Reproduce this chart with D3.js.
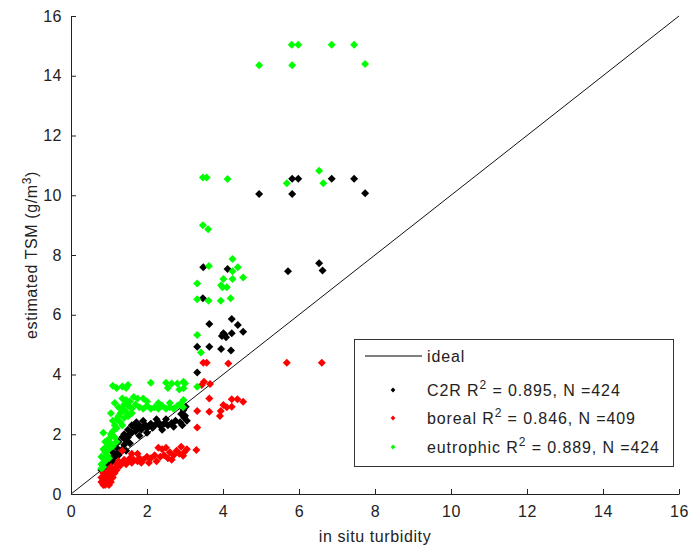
<!DOCTYPE html>
<html>
<head>
<meta charset="utf-8">
<script src="https://cdn.jsdelivr.net/npm/d3@7"></script>
<style>
  body { margin: 0; background: #fff; }
  text { font-family: "Liberation Sans", Arial, sans-serif; fill: #222; }
</style>
</head>
<body>
<div class="chart"></div>
<script>
// data as [in situ turbidity, estimated TSM]
const c2r = [
  [4.95,10.04],[5.82,10.04],[5.82,10.55],[5.98,10.55],[6.86,10.55],[7.45,10.55],[7.74,10.07],
  [3.48,7.59],[4.12,7.53],[5.71,7.46],[6.53,7.72],[6.62,7.48],
  [3.47,6.55],[3.64,5.69],[4.23,5.86],[4.39,5.66],[4.01,5.38],[3.97,5.29],[4.23,5.38],[4.53,5.43],[4.08,5.25],[4.04,5.34],
  [3.32,4.93],[3.64,4.93],[3.95,4.85],[4.21,4.80],[3.32,4.07],
  [2.96,2.81],[3.02,2.92],[2.90,2.68],[2.98,2.55],[3.05,2.45],[2.87,2.40],[2.93,2.30],[3.00,2.62],
  [2.75,2.45],[2.65,2.38],[2.55,2.30],[2.70,2.25],[2.45,2.35],[2.35,2.28],[2.30,2.40],[2.20,2.30],[2.15,2.22],
  [2.10,2.35],[2.05,2.28],[2.00,2.20],[1.95,2.32],[1.90,2.25],[1.85,2.15],[1.80,2.30],[1.75,2.20],[1.70,2.10],
  [1.72,2.40],[1.65,2.25],[1.60,2.05],[2.25,2.50],[2.50,2.50],[1.90,2.45],[2.40,2.15],[2.00,2.05],[1.80,1.95],
  [1.55,2.00],[1.50,1.90],[1.45,1.80],[1.55,1.70],[1.40,1.65],[1.35,1.50],[1.45,1.45],[1.30,1.40],[1.60,2.30],
  [1.50,2.15],[1.40,2.00],[1.35,1.90],[1.25,1.75],[1.20,1.55],[1.20,1.35],[1.15,1.25],[1.10,1.40],[1.05,1.20],
  [1.00,1.10],[0.95,1.00],[0.90,0.95],[0.85,0.85],[0.80,0.80],[1.10,1.10],[1.25,1.30]
];

const boreal = [
  [5.68,4.39],[6.60,4.39],[3.48,4.39],[3.57,4.39],[4.14,4.37],
  [3.50,3.76],[3.66,3.68],[3.44,3.65],
  [3.64,3.20],[4.23,3.17],[4.38,3.17],[4.53,3.09],[4.01,2.98],[4.10,2.90],[3.94,2.78],[4.23,2.92],[3.32,2.78],[3.64,2.75],[3.92,2.61],
  [3.32,2.23],
  [3.30,1.47],[3.05,1.50],[2.98,1.40],[2.90,1.58],[2.85,1.35],[2.95,1.28],[2.78,1.45],[2.70,1.30],[2.60,1.40],
  [2.50,1.55],[2.40,1.50],[2.30,1.55],[2.45,1.30],[2.35,1.25],[2.20,1.30],[2.10,1.20],[2.00,1.25],[1.90,1.15],
  [1.80,1.20],[1.75,1.10],[1.65,1.15],[1.60,1.05],[1.55,1.20],[1.50,1.10],[1.45,1.00],[1.40,1.15],[1.35,1.05],
  [1.30,0.95],[1.25,1.10],[1.20,0.90],[1.20,1.00],[2.25,1.10],[2.05,1.05],[1.85,1.05],[2.55,1.20],[2.65,1.15],
  [1.35,1.45],[1.60,1.35],[1.75,1.35],
  [1.15,0.85],[1.10,0.75],[1.05,0.90],[1.00,0.80],[0.95,0.70],[0.90,0.60],[0.85,0.50],[0.80,0.40],[0.85,0.30],
  [0.95,0.35],[1.00,0.50],[1.05,0.60],[1.10,0.55],[0.90,0.45],[0.80,0.55],[0.85,0.70],[1.15,0.70],[1.20,0.80],
  [0.95,0.55],[1.00,0.30],[0.90,0.30],[1.05,0.40]
];

const eutrophic = [
  [5.81,15.04],[5.98,15.04],[6.86,15.04],[7.45,15.04],[4.95,14.35],[5.82,14.35],[7.74,14.39],
  [6.53,10.82],[5.68,10.40],[6.64,10.40],
  [3.47,10.59],[3.57,10.59],[4.12,10.54],
  [3.47,9.00],[3.61,8.86],
  [3.63,7.63],[4.25,7.87],[4.39,7.59],[4.25,7.46],[4.53,7.25],[4.01,7.20],[4.25,7.20],[3.32,7.05],[3.95,6.99],[4.10,6.92],[3.99,6.92],
  [3.32,6.52],[3.62,6.47],[3.94,6.47],[4.20,6.55],
  [3.32,5.32],[3.42,4.74],
  [2.96,3.76],[3.32,3.59],[2.96,3.54],[2.96,3.15],
  [3.00,3.70],[2.80,3.70],[2.65,3.70],[2.50,3.72],[2.10,3.72],[1.50,3.65],[1.45,3.55],
  [1.35,3.60],[1.10,3.62],[1.20,3.55],[2.55,3.55],[2.85,3.50],
  [2.90,3.05],[2.80,2.95],[2.70,2.85],[2.60,2.90],[2.50,2.85],[2.40,2.95],[2.30,2.85],[2.20,2.90],[2.10,2.85],
  [2.00,2.95],[1.90,2.85],[1.80,2.90],[1.70,3.00],[1.60,2.85],[1.55,3.10],[1.50,2.95],[1.45,3.15],[1.40,3.00],
  [2.60,3.05],[2.30,3.05],[2.00,3.10],[1.75,3.20],[1.65,3.25],[1.90,3.20],[2.95,2.90],
  [1.35,2.85],[1.30,2.70],[1.25,2.60],[1.30,2.40],[1.20,2.50],[1.15,2.30],[1.20,2.20],[1.10,2.10],[1.05,2.00],
  [1.15,1.90],[1.00,1.85],[1.05,1.70],[0.95,1.60],[1.00,1.50],[0.90,1.40],[0.95,1.30],[0.85,1.20],[0.90,1.10],
  [0.80,1.00],[0.85,0.90],[0.80,0.85],[1.10,1.60],[1.20,1.75],[1.40,2.55],[1.35,2.30],[1.45,2.75],[1.00,1.20],
  [0.90,1.75],[0.85,1.50],[0.80,1.25],[1.25,2.90],[1.10,2.45],[1.50,2.60],[1.60,2.70],[1.15,3.05],[1.05,2.70],
  [0.85,2.05],[1.35,3.20]
];

const ideal = [[0, 0], [16, 16]];
const ticks = [0, 2, 4, 6, 8, 10, 12, 14, 16];
const seriesNames = ["C2R", "boreal", "eutrophic"];
const seriesStats = [["0.895", "424"], ["0.846", "409"], ["0.889", "424"]];
const seriesColors = ["#000000", "#ff0000", "#00ff00"];

// setup chart
const width = 689;
const height = 547;
const chart = d3.select(".chart").append("svg").attr("width", width).attr("height", height);
chart.append("rect").attr("width", width).attr("height", height).attr("fill", "#fff");

const x = d3.scaleLinear().domain([0, 16]).range([71, 679]);
const y = d3.scaleLinear().domain([0, 16]).range([494, 16]);

// ideal line
chart.append("path")
  .attr("d", d3.line().x((d) => x(d[0])).y((d) => y(d[1]))(ideal))
  .attr("stroke", "#111").attr("stroke-width", 1).attr("fill", "none");

// points, drawn in legend order so green ends up on top
const diamond = (r) => `M0,${-r}L${r},0L0,${r}L${-r},0Z`;
[c2r, boreal, eutrophic].forEach((series, i) => {
  chart.append("g")
    .selectAll("path")
    .data(series)
    .enter()
    .append("path")
    .attr("d", diamond(4))
    .attr("transform", (d) => `translate(${x(d[0])},${y(d[1])})`)
    .attr("fill", seriesColors[i]);
});

// axes, ticks point inward like matlab
const xAxis = d3.axisBottom(x).tickValues(ticks).tickSizeInner(-5).tickSizeOuter(0).tickPadding(12);
const yAxis = d3.axisLeft(y).tickValues(ticks).tickSizeInner(-5).tickSizeOuter(0).tickPadding(9);

const gx = chart.append("g").attr("transform", `translate(0,${y(0)})`).call(xAxis);
const gy = chart.append("g").attr("transform", `translate(${x(0)},0)`).call(yAxis);
[gx, gy].forEach((g) => {
  g.select(".domain").attr("stroke", "#222");
  g.selectAll(".tick line").attr("stroke", "#222");
  g.selectAll(".tick text").style("font-size", "16px").style("letter-spacing", "0.5px").attr("fill", "#222");
});

// axis labels
chart.append("text")
  .attr("x", (x(0) + x(16)) / 2).attr("y", 542)
  .attr("text-anchor", "middle").style("font-size", "16px").style("letter-spacing", "0.6px")
  .text("in situ turbidity");

const yLabel = chart.append("text")
  .attr("transform", `translate(37,${(y(0) + y(16)) / 2}) rotate(-90)`)
  .attr("text-anchor", "middle").style("font-size", "16px").style("letter-spacing", "0.6px");
yLabel.append("tspan").text("estimated TSM (g/m");
yLabel.append("tspan").attr("dy", -6).style("font-size", "12px").text("3");
yLabel.append("tspan").attr("dy", 6).text(")");

// legend
const legend = chart.append("g").attr("id", "legend");
legend.append("rect")
  .attr("x", 354.5).attr("y", 339.5).attr("width", 319).attr("height", 127)
  .attr("fill", "#fff").attr("stroke", "#333");

legend.append("line")
  .attr("x1", 365).attr("x2", 422).attr("y1", 356).attr("y2", 356)
  .attr("stroke", "#000");
legend.append("text").attr("x", 427).attr("y", 362)
  .style("font-size", "16px").style("letter-spacing", "0.9px").text("ideal");

const rowY = [390, 418, 447];
seriesNames.forEach((name, i) => {
  legend.append("path")
    .attr("d", diamond(2.4))
    .attr("transform", `translate(393,${rowY[i]})`)
    .attr("fill", seriesColors[i]);
  const t = legend.append("text").attr("x", 427).attr("y", rowY[i] + 6)
    .style("font-size", "16px").style("letter-spacing", "0.9px");
  t.append("tspan").text(`${name} R`);
  t.append("tspan").attr("dy", -7).style("font-size", "12px").text("2");
  t.append("tspan").attr("dy", 7).text(` = ${seriesStats[i][0]}, N =${seriesStats[i][1]}`);
});
</script>
</body>
</html>
